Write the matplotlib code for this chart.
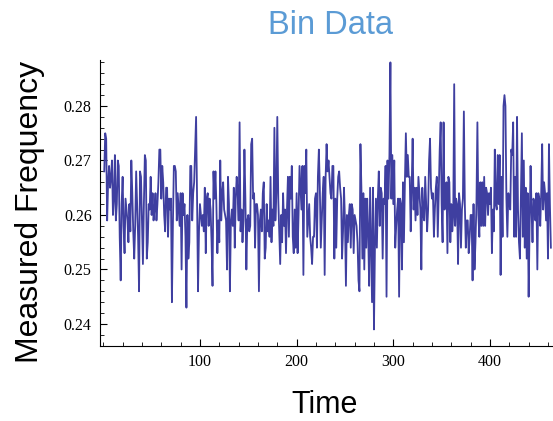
import matplotlib
matplotlib.use("Agg")
import matplotlib.pyplot as plt
import numpy as np
from matplotlib.ticker import MultipleLocator

# measured frequency, in thousandths from left to right
seg1 = [268, 275, 274, 259, 266, 269, 265, 267, 270, 260, 263, 271, 259, 262, 270, 269, 256, 248,
        262, 267, 258, 253, 263, 261, 259, 255, 262, 257, 270, 264, 257, 252, 258, 268, 262, 256, 246]
seg2 = [268, 267, 259, 251, 262, 271, 270, 252, 255, 262, 261, 267, 260, 264, 259, 261, 264, 259,
        262, 266, 272, 272, 263, 269, 266, 260, 257, 265, 265, 256, 263, 261, 263, 244, 258, 269]
seg3 = [269, 268, 259, 264, 261, 258, 264, 250, 264, 260, 262, 256, 243, 260, 252, 255, 269, 269,
        259, 264, 266, 272, 278, 263, 246, 257, 262, 260, 258, 260, 257, 265, 253, 263, 264, 258,
        263, 261, 255, 247, 268]
seg4 = [263, 268, 262, 253, 259, 255, 270, 259, 264, 266, 261, 260, 259, 250, 267, 262, 246, 259,
        261, 258, 265, 254, 263, 267, 264, 259, 277, 257, 261, 255, 259, 272, 263, 250, 259, 260,
        257, 258, 273]
seg5 = [274, 263, 264, 254, 262, 262, 260, 246, 259, 261, 257, 264, 266, 252, 254, 262, 257, 259,
        256, 267, 255, 261, 258, 276, 259, 264, 278, 263, 257, 251, 260, 255, 264, 258, 261, 253,
        261, 267, 256]
seg6 = [267, 263, 269, 256, 253, 261, 254, 264, 253, 260, 269, 265, 261, 269, 249, 269, 264, 272,
        256, 259, 262, 256, 254, 251, 256, 256, 263, 264, 254, 267, 272, 265, 254, 259, 264, 267,
        249, 267, 273]
seg7 = [268, 270, 267, 264, 263, 269, 269, 252, 263, 254, 263, 267, 268, 265, 263, 252, 257, 265,
        259, 247, 260, 255, 260, 262, 254, 262, 261, 253, 260, 259, 258, 255, 248, 246, 273, 265,
        252, 264, 250]
seg8 = [263, 254, 263, 257, 247, 265, 255, 244, 265, 239, 254, 263, 254, 263, 268, 258, 265, 264,
        252, 263, 262, 269, 245, 270, 263, 271, 288, 263, 271, 262, 270, 254, 258, 261, 263, 245,
        263, 262, 250]
seg9 = [266, 255, 266, 275, 267, 271, 267, 267, 257, 265, 274, 261, 265, 259, 265, 260, 267, 264,
        261, 250, 265, 260, 259, 267, 262, 257, 261, 270, 274, 265, 263, 264, 256, 261, 265, 267,
        256, 264, 272]
seg10 = [277, 262, 255, 277, 261, 265, 266, 253, 267, 266, 255, 262, 257, 260, 284, 258, 263, 262,
         251, 264, 262, 254, 261, 263, 279, 262, 254, 259, 259, 253, 256, 260, 260, 248, 262, 250,
         255, 262, 277]
seg11 = [260, 256, 266, 258, 266, 258, 267, 258, 265, 264, 260, 264, 262, 265, 253, 261, 257, 272,
         262, 261, 271, 262, 271, 249, 267, 256, 280, 282, 280, 263, 256, 264, 262, 261, 272, 271,
         277, 256, 267]
seg12 = [256, 278, 261, 255, 252, 264, 275, 256, 270, 254, 265, 252, 264, 245, 258, 269, 261, 255,
         263, 262, 259, 264, 250, 264, 263, 258, 264, 273, 261, 266, 264, 259, 264, 252, 273, 262, 254]

freq = np.array(seg1 + seg2 + seg3 + seg4 + seg5 + seg6 + seg7 + seg8 + seg9 + seg10 + seg11 + seg12) / 1000.0
time = np.arange(1, len(freq) + 1)

fig = plt.figure(figsize=(5.53, 4.21), dpi=100)
ax = fig.add_axes([100 / 553, 75 / 421, 453 / 553, 286 / 421])

ax.plot(time, freq, color="#3f3fa0", lw=1.3)

ax.set_xlim(-3.4, 465.2)
ax.set_ylim(0.23596, 0.28844)

for s in ["top", "right"]:
    ax.spines[s].set_visible(False)
for s in ["left", "bottom"]:
    ax.spines[s].set_linewidth(0.8)

ax.xaxis.set_major_locator(MultipleLocator(100))
ax.xaxis.set_minor_locator(MultipleLocator(20))
ax.yaxis.set_major_locator(MultipleLocator(0.01))
ax.yaxis.set_minor_locator(MultipleLocator(0.002))
ax.set_xticks([100, 200, 300, 400])
ax.set_yticks([0.24, 0.25, 0.26, 0.27, 0.28])
ax.set_yticklabels(["0.24", "0.25", "0.26", "0.27", "0.28"])
ax.tick_params(which="major", direction="in", length=5, width=0.8, pad=6)
ax.tick_params(which="minor", direction="in", length=3, width=0.6)
for lab in ax.get_xticklabels() + ax.get_yticklabels():
    lab.set_fontfamily("Liberation Serif")
    lab.set_fontsize(11.5)

fig.text(30 / 553, 1 - 212 / 421, "Measured Frequency", rotation=90, ha="center", va="center",
         fontsize=23, family="Liberation Sans")
fig.text(325 / 553, 1 - 405 / 421, "Time", ha="center", va="center", fontsize=22,
         family="Liberation Sans")
fig.text(331 / 553, 1 - 25 / 421, "Bin Data", ha="center", va="center", fontsize=23.5,
         color="#5b9bd5", family="Liberation Sans")

fig.savefig("out.png", dpi=100)
